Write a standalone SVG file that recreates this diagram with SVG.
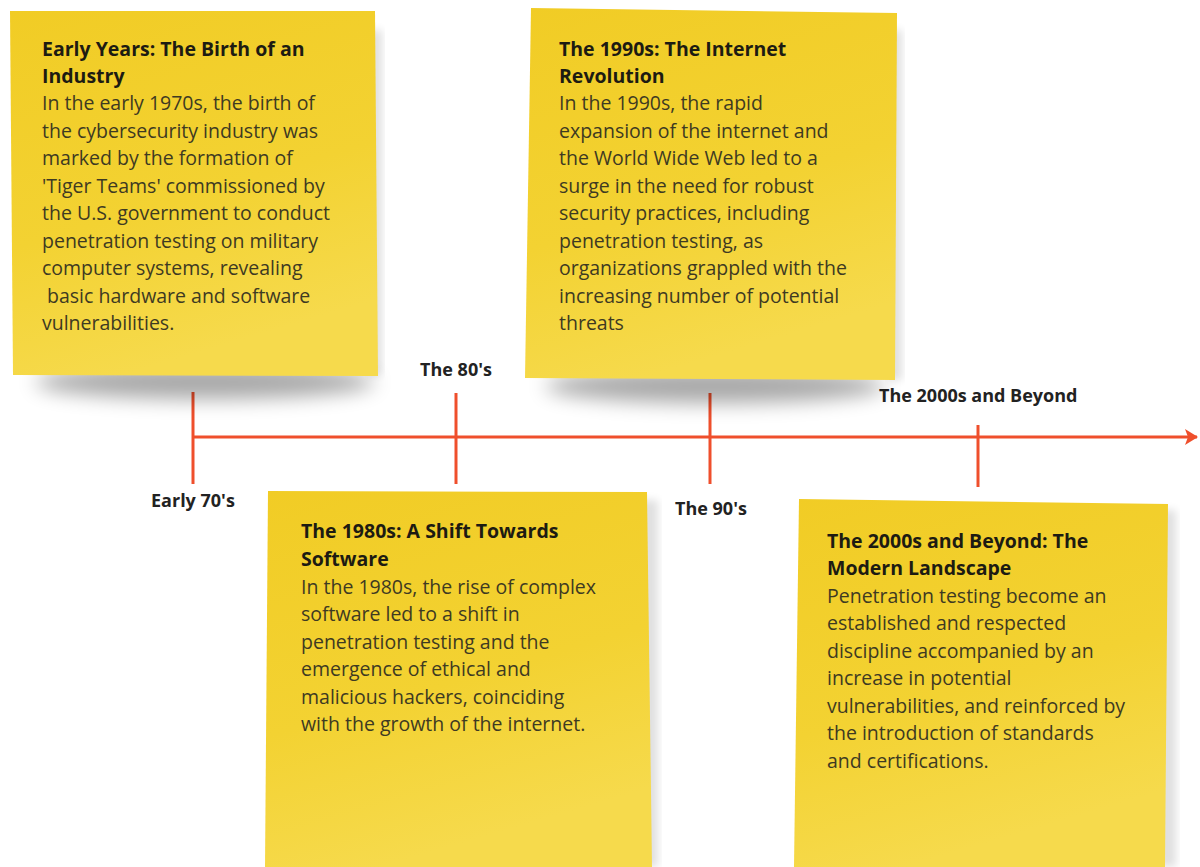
<svg xmlns="http://www.w3.org/2000/svg" width="1200" height="867" viewBox="0 0 1200 867">
  <defs>
    <linearGradient id="paper" x1="0" y1="0" x2="0.3" y2="1">
      <stop offset="0" stop-color="#f1cc25"/>
      <stop offset="0.6" stop-color="#f3d232"/>
      <stop offset="1" stop-color="#f6da4c"/>
    </linearGradient>
    <filter id="soft" x="-20%" y="-100%" width="140%" height="300%">
      <feGaussianBlur stdDeviation="10"/>
    </filter>
    <filter id="edge" x="-20%" y="-20%" width="140%" height="140%">
      <feGaussianBlur stdDeviation="4"/>
    </filter>
    <marker id="arrow" viewBox="0 0 16 18" refX="14" refY="9" markerWidth="16" markerHeight="18" markerUnits="userSpaceOnUse" orient="auto">
      <path d="M2,1 L15,9 L2,17 L5,9 Z" fill="#ef4f2c"/>
    </marker>
    <style>
      .note { fill: url(#paper); }
      .shadow { fill: #000; opacity: 0.34; filter: url(#soft); }
      .side { fill: #000; opacity: 0.12; filter: url(#edge); }
      .title { font-family: "Open Sans", "Noto Sans", sans-serif; font-weight: 700; font-size: 19.5px; fill: #1d1b12; }
      .body { font-family: "Open Sans", "Noto Sans", sans-serif; font-size: 19.5px; fill: #3e3a22; }
      .label { font-family: "Open Sans", "Noto Sans", sans-serif; font-weight: 700; font-size: 18px; fill: #222; }
      .axis { stroke: #ef4f2c; stroke-width: 3; fill: none; }
    </style>
  </defs>

  <rect width="1200" height="867" fill="#fff"/>

  <!-- timeline axis and ticks -->
  <g id="connectors">
    <line class="axis" x1="193" y1="437" x2="1197" y2="437" marker-end="url(#arrow)"/>
    <line class="axis" x1="193" y1="392" x2="193" y2="484"/>
    <line class="axis" x1="456" y1="393" x2="456" y2="484"/>
    <line class="axis" x1="710" y1="393" x2="710" y2="484"/>
    <line class="axis" x1="978" y1="425" x2="978" y2="487"/>
  </g>

  <!-- period labels along the axis -->
  <g id="labels">
    <text class="label" x="151" y="507">Early 70's</text>
    <text class="label" x="456" y="376" text-anchor="middle">The 80's</text>
    <text class="label" x="675" y="515">The 90's</text>
    <text class="label" x="879" y="402">The 2000s and Beyond</text>
  </g>

  <!-- 1970s note -->
  <g id="note-1970s">
    <ellipse class="shadow" cx="205" cy="382" rx="170" ry="17"/>
    <rect class="side" x="368" y="30" width="14" height="345"/>
    <polygon class="note" points="10,11 375,11 378,376 13,375"/>
    <text class="title" x="42" y="56">Early Years: The Birth of an</text>
    <text class="title" x="42" y="83">Industry</text>
    <text class="body" x="42" y="110">In the early 1970s, the birth of</text>
    <text class="body" x="42" y="137.5">the cybersecurity industry was</text>
    <text class="body" x="42" y="165">marked by the formation of</text>
    <text class="body" x="42" y="192.5">'Tiger Teams' commissioned by</text>
    <text class="body" x="42" y="220">the U.S. government to conduct</text>
    <text class="body" x="42" y="247.5">penetration testing on military</text>
    <text class="body" x="42" y="275">computer systems, revealing</text>
    <text class="body" x="42" y="302.5" xml:space="preserve"> basic hardware and software</text>
    <text class="body" x="42" y="330">vulnerabilities.</text>
  </g>

  <!-- 1990s note -->
  <g id="note-1990s">
    <ellipse class="shadow" cx="715" cy="386" rx="170" ry="17"/>
    <rect class="side" x="888" y="30" width="14" height="350"/>
    <polygon class="note" points="531,8 897,13 895,380 525,378"/>
    <text class="title" x="559" y="56">The 1990s: The Internet</text>
    <text class="title" x="559" y="83">Revolution</text>
    <text class="body" x="559" y="110">In the 1990s, the rapid</text>
    <text class="body" x="559" y="137.5">expansion of the internet and</text>
    <text class="body" x="559" y="165">the World Wide Web led to a</text>
    <text class="body" x="559" y="192.5">surge in the need for robust</text>
    <text class="body" x="559" y="220">security practices, including</text>
    <text class="body" x="559" y="247.5">penetration testing, as</text>
    <text class="body" x="559" y="275">organizations grappled with the</text>
    <text class="body" x="559" y="302.5">increasing number of potential</text>
    <text class="body" x="559" y="330">threats</text>
  </g>

  <!-- 1980s note -->
  <g id="note-1980s">
    <rect class="side" x="640" y="500" width="18" height="367"/>
    <polygon class="note" points="268,491 647,492 652,867 265,867"/>
    <text class="title" x="301" y="538">The 1980s: A Shift Towards</text>
    <text class="title" x="301" y="566">Software</text>
    <text class="body" x="301" y="594">In the 1980s, the rise of complex</text>
    <text class="body" x="301" y="621">software led to a shift in</text>
    <text class="body" x="301" y="649">penetration testing and the</text>
    <text class="body" x="301" y="676">emergence of ethical and</text>
    <text class="body" x="301" y="704">malicious hackers, coinciding</text>
    <text class="body" x="301" y="731">with the growth of the internet.</text>
  </g>

  <!-- 2000s note -->
  <g id="note-2000s">
    <rect class="side" x="1158" y="510" width="18" height="357"/>
    <polygon class="note" points="799,499 1168,504 1165,867 794,867"/>
    <text class="title" x="827" y="548">The 2000s and Beyond: The</text>
    <text class="title" x="827" y="575">Modern Landscape</text>
    <text class="body" x="827" y="603">Penetration testing become an</text>
    <text class="body" x="827" y="630">established and respected</text>
    <text class="body" x="827" y="658">discipline accompanied by an</text>
    <text class="body" x="827" y="685">increase in potential</text>
    <text class="body" x="827" y="713">vulnerabilities, and reinforced by</text>
    <text class="body" x="827" y="740">the introduction of standards</text>
    <text class="body" x="827" y="768">and certifications.</text>
  </g>
</svg>
